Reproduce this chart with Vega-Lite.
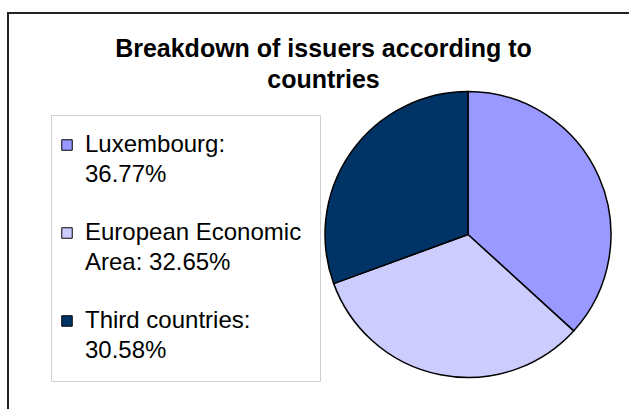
{
  "$schema": "https://vega.github.io/schema/vega-lite/v6.json",
  "width": 629,
  "height": 409,
  "autosize": {"type": "fit", "contains": "padding"},
  "padding": {"left": 8, "top": 13, "right": -10, "bottom": -10},
  "background": "white",
  "view": {"stroke": "#222222", "strokeWidth": 2},
  "title": {
    "text": ["Breakdown of issuers according to", "countries"],
    "font": "Liberation Sans",
    "fontSize": 25,
    "fontWeight": "bold",
    "color": "black",
    "anchor": "middle",
    "frame": "group",
    "baseline": "top",
    "lineHeight": 31,
    "offset": -80
  },
  "data": {
    "values": [
      {"label": "Luxembourg:|36.77%", "share": 36.77, "k": 1},
      {"label": "European Economic|Area: 32.65%", "share": 32.65, "k": 2},
      {"label": "Third countries:|30.58%", "share": 30.58, "k": 3}
    ]
  },
  "mark": {
    "type": "arc",
    "radius": 143,
    "stroke": "black",
    "strokeWidth": 1.5,
    "x": {"expr": "width * 0.729"},
    "y": {"expr": "height * 0.5456"}
  },
  "encoding": {
    "theta": {"field": "share", "type": "quantitative", "stack": true},
    "order": {"field": "k", "type": "quantitative"},
    "color": {
      "field": "label",
      "type": "nominal",
      "sort": null,
      "scale": {
        "domain": ["Luxembourg:|36.77%", "European Economic|Area: 32.65%", "Third countries:|30.58%"],
        "range": ["#9999FF", "#CCCCFF", "#003366"]
      },
      "legend": {
        "orient": "none",
        "legendX": 43,
        "legendY": 102,
        "title": null,
        "symbolType": "square",
        "symbolSize": 110,
        "symbolStrokeColor": "black",
        "symbolStrokeWidth": 1,
        "symbolOffset": -14,
        "labelFont": "Liberation Sans",
        "labelFontSize": 24,
        "labelColor": "black",
        "labelExpr": "split(datum.label, '|')",
        "labelBaseline": "top",
        "labelLimit": 400,
        "labelOffset": 6,
        "padding": 18,
        "rowPadding": 34,
        "strokeColor": "#d0d0d0",
        "fillColor": "white",
        "encode": {
          "legend": {"update": {"width": {"value": 256}}},
          "labels": {"update": {"lineHeight": {"value": 30}, "dy": {"value": -12}}}
        }
      }
    }
  },
  "config": {
    "view": {"stroke": "#222222", "strokeWidth": 2}
  }
}
